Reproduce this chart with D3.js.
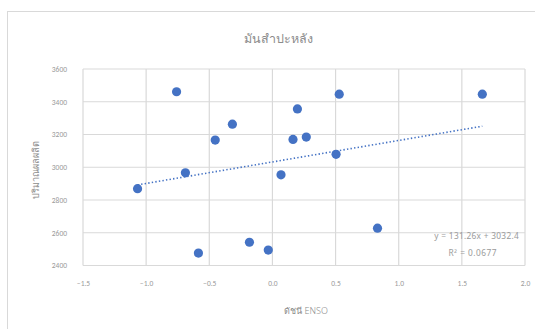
<!DOCTYPE html>
<html>
<head>
<meta charset="utf-8">
<script src="https://cdn.jsdelivr.net/npm/d3@7"></script>
<style>
  html, body { margin: 0; padding: 0; background: #fff; }
  svg { display: block; font-family: "Noto Sans", "DejaVu Sans", sans-serif; }
</style>
</head>
<body>
<svg id="chart" width="535" height="329"></svg>
<script>
// ENSO index vs cassava yield
const ensoIndex = [-1.068, -0.759, -0.689, -0.453, -0.317, -0.586, -0.182, -0.033,
                   0.068, 0.163, 0.268, 0.198, 0.529, 0.504, 0.832, 1.662];
const yieldValues = [2869, 3461, 2966, 3166, 3263, 2476, 2542, 2494,
                     2954, 3170, 3184, 3356, 3446, 3079, 2628, 3446];
const xTicks = [-1.5, -1.0, -0.5, 0.0, 0.5, 1.0, 1.5, 2.0];
const yTicks = [2400, 2600, 2800, 3000, 3200, 3400, 3600];
const trendSlope = 131.26;
const trendIntercept = 3032.4;
const rSquared = 0.0677;

const titleText = "มันสำปะหลัง";
const xTitle = "ดัชนี ENSO";
const yTitle = "ปริมาณผลผลิต";

const svg = d3.select("#chart");
const plot = { left: 83, right: 525, top: 69, bottom: 265.5 };

// outer chart frame
svg.append("rect")
  .attr("x", 7.5).attr("y", 11.5)
  .attr("width", 560).attr("height", 340)
  .attr("fill", "#fff").attr("stroke", "#d9d9d9").attr("stroke-width", 1);

const x = d3.scaleLinear().domain([-1.5, 2.0]).range([plot.left, plot.right]);
const y = d3.scaleLinear().domain([2400, 3600]).range([plot.bottom, plot.top]);

// gridlines
const grid = svg.append("g").attr("stroke", "#d9d9d9").attr("stroke-width", 1.2);
grid.selectAll("line.v").data(xTicks).join("line")
  .attr("x1", d => x(d)).attr("x2", d => x(d))
  .attr("y1", plot.top).attr("y2", plot.bottom);
grid.selectAll("line.h").data(yTicks).join("line")
  .attr("x1", plot.left).attr("x2", plot.right)
  .attr("y1", d => y(d)).attr("y2", d => y(d));

// axes (labels only)
const xAxis = svg.append("g")
  .attr("transform", `translate(0,${plot.bottom + 12})`)
  .call(d3.axisBottom(x).tickValues(xTicks).tickFormat(d3.format(".1f")).tickSize(0));
const yAxis = svg.append("g")
  .attr("transform", `translate(${plot.left - 13},0)`)
  .call(d3.axisLeft(y).tickValues(yTicks).tickFormat(d3.format("d")).tickSize(0));
[xAxis, yAxis].forEach(a => {
  a.select(".domain").remove();
  a.selectAll("text").attr("fill", "#9a9a9a").style("font-size", "7.5px")
    .style("font-family", "Calibri, Carlito, 'Liberation Sans', sans-serif");
});
xAxis.selectAll("text").attr("dy", "0.71em");

// trendline
const xr = d3.extent(ensoIndex);
svg.append("line")
  .attr("x1", x(xr[0])).attr("y1", y(trendSlope * xr[0] + trendIntercept))
  .attr("x2", x(xr[1])).attr("y2", y(trendSlope * xr[1] + trendIntercept))
  .attr("stroke", "#4472c4").attr("stroke-width", 1.6)
  .attr("stroke-dasharray", "1.4,2.2");

// points
svg.append("g").selectAll("circle")
  .data(ensoIndex.map((v, i) => [v, yieldValues[i]]))
  .join("circle")
  .attr("cx", d => x(d[0])).attr("cy", d => y(d[1]))
  .attr("r", 4.6).attr("fill", "#4472c4");

// trendline equation
svg.append("text").attr("x", 519).attr("y", 239).attr("text-anchor", "end")
  .attr("fill", "#9a9a9a").style("font-size", "8.3px").style("letter-spacing", "0.3px")
  .text(`y = ${trendSlope}x + ${trendIntercept}`);
svg.append("text").attr("x", 497).attr("y", 256).attr("text-anchor", "end")
  .attr("fill", "#9a9a9a").style("font-size", "8.3px").style("letter-spacing", "0.5px")
  .text(`R² = ${rSquared}`);

// titles
svg.append("text").attr("x", 278).attr("y", 43).attr("text-anchor", "middle")
  .attr("fill", "#8c8c8c").style("font-size", "12.5px").style("font-weight", "300")
  .text(titleText);
svg.append("text").attr("x", 306).attr("y", 314).attr("text-anchor", "middle")
  .attr("fill", "#8c8c8c").style("font-size", "9px").style("font-weight", "300")
  .text(xTitle);
svg.append("text")
  .attr("transform", `translate(39,170) rotate(-90)`)
  .attr("text-anchor", "middle")
  .attr("fill", "#8c8c8c").style("font-size", "9px").style("font-weight", "300")
  .text(yTitle);
</script>
</body>
</html>
